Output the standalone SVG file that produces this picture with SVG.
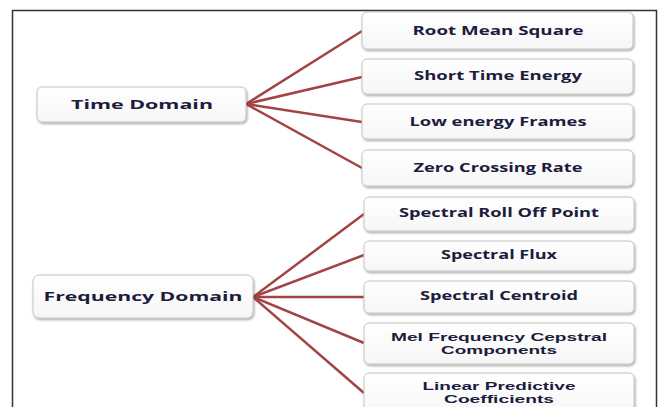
<svg xmlns="http://www.w3.org/2000/svg" width="662" height="407" viewBox="0 0 662 407">
<defs>
<linearGradient id="g" x1="0" y1="0" x2="0" y2="1"><stop offset="0" stop-color="#ffffff"/><stop offset="1" stop-color="#f6f6f6"/></linearGradient>
<filter id="sh" x="-10%" y="-20%" width="120%" height="150%"><feDropShadow dx="1" dy="1.5" stdDeviation="1" flood-color="#000" flood-opacity="0.35"/></filter>
</defs>
<style>
.box{fill:url(#g);stroke:#c4c4c4;stroke-width:1;filter:url(#sh)}
.t{font-family:"Open Sans","Liberation Sans",sans-serif;font-weight:bold;font-size:13px;fill:#1c1c3c;text-anchor:middle}
.s{font-family:"Liberation Sans",Arial,sans-serif;font-size:11.5px}
.c{stroke:#a24444;stroke-width:2.5;fill:none}
</style>
<rect x="0" y="0" width="662" height="407" fill="#fff"/>
<path d="M12.5 407 V10.5 H656.5 V407" fill="none" stroke="#333" stroke-width="1.5"/>
<g id="connectors">
<line class="c" x1="246" y1="104" x2="362" y2="31"/>
<line class="c" x1="246" y1="104" x2="362" y2="77"/>
<line class="c" x1="246" y1="104" x2="362" y2="122"/>
<line class="c" x1="246" y1="104" x2="362" y2="168"/>
<line class="c" x1="253" y1="297" x2="364" y2="214"/>
<line class="c" x1="253" y1="297" x2="364" y2="255"/>
<line class="c" x1="253" y1="297" x2="364" y2="297"/>
<line class="c" x1="253" y1="297" x2="364" y2="343"/>
<line class="c" x1="253" y1="297" x2="364" y2="393"/>
</g>
<g id="time-domain"><rect class="box" x="37" y="87" width="209" height="35" rx="5"/><text class="t" x="142" y="109" textLength="142" lengthAdjust="spacingAndGlyphs">Time Domain</text></g>
<g id="frequency-domain"><rect class="box" x="33" y="275" width="220" height="43" rx="6"/><text class="t" x="143" y="301" textLength="199" lengthAdjust="spacingAndGlyphs">Frequency Domain</text></g>
<g id="rms"><rect class="box" x="362" y="12" width="271" height="37" rx="5"/><text class="t" x="498" y="35" textLength="171" lengthAdjust="spacingAndGlyphs">Root Mean Square</text></g>
<g id="ste"><rect class="box" x="362" y="59" width="271" height="35" rx="5"/><text class="t" x="498" y="80" textLength="168" lengthAdjust="spacingAndGlyphs">Short Time Energy</text></g>
<g id="lef"><rect class="box" x="362" y="104" width="271" height="35" rx="5"/><text class="t" x="498" y="126" textLength="177" lengthAdjust="spacingAndGlyphs">Low energy Frames</text></g>
<g id="zcr"><rect class="box" x="362" y="150" width="271" height="36" rx="5"/><text class="t" x="498" y="172" textLength="169" lengthAdjust="spacingAndGlyphs">Zero Crossing Rate</text></g>
<g id="srop"><rect class="box" x="364" y="197" width="270" height="34" rx="5"/><text class="t" x="499" y="217" textLength="200" lengthAdjust="spacingAndGlyphs">Spectral Roll Off Point</text></g>
<g id="sf"><rect class="box" x="364" y="241" width="270" height="30" rx="5"/><text class="t" x="499" y="259" textLength="116" lengthAdjust="spacingAndGlyphs">Spectral Flux</text></g>
<g id="sc"><rect class="box" x="364" y="281" width="270" height="32" rx="5"/><text class="t" x="499" y="300" textLength="158" lengthAdjust="spacingAndGlyphs">Spectral Centroid</text></g>
<g id="mfcc"><rect class="box" x="364" y="323" width="270" height="41" rx="5"/><text class="t s" x="499" y="341" textLength="216" lengthAdjust="spacingAndGlyphs">Mel Frequency Cepstral</text><text class="t s" x="499" y="354" textLength="116" lengthAdjust="spacingAndGlyphs">Components</text></g>
<g id="lpc"><rect class="box" x="364" y="373" width="270" height="45" rx="5"/><text class="t s" x="499" y="390" textLength="153" lengthAdjust="spacingAndGlyphs">Linear Predictive</text><text class="t s" x="499" y="403" textLength="110" lengthAdjust="spacingAndGlyphs">Coefficients</text></g>
</svg>
